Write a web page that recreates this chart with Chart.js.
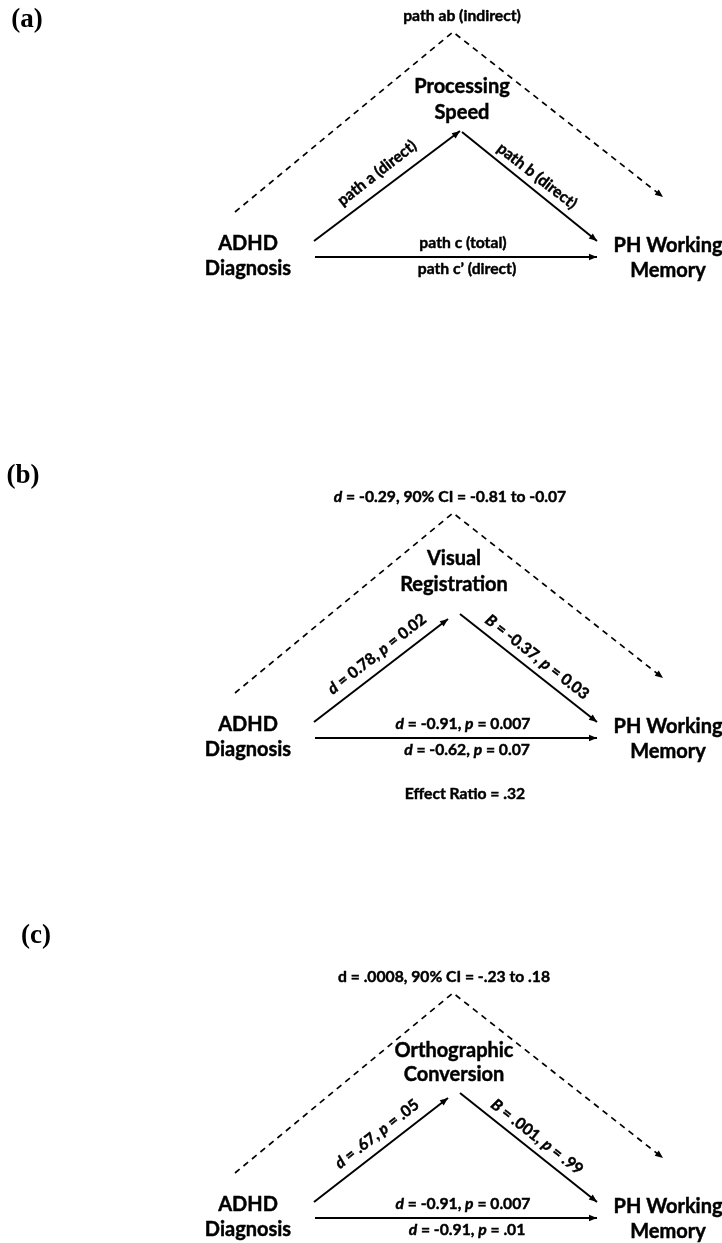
<!DOCTYPE html>
<html>
<head>
<meta charset="utf-8">
<script src="https://cdn.jsdelivr.net/npm/chart.js@4.4.1/dist/chart.umd.min.js"></script>
<style>
  html, body { margin: 0; padding: 0; background: #fff; }
  #wrap { width: 722px; height: 1243px; position: relative; }
</style>
</head>
<body>
<div id="wrap"><canvas id="diagram"></canvas></div>
<script>
/* ================= DATA ================= */
const panelNames = ["(a)", "(b)", "(c)"];
const mediatorNames = [["Processing", "Speed"], ["Visual", "Registration"], ["Orthographic", "Conversion"]];
const predictorName = ["ADHD", "Diagnosis"];
const outcomeName = ["PH Working", "Memory"];
// *...* marks italic text
const indirectLabels = ["path ab (indirect)", "*d* = -0.29, 90% CI = -0.81 to -0.07", "d = .0008, 90% CI = -.23 to .18"];
const pathALabels = ["path a (direct)", "*d* = 0.78, *p* = 0.02", "*d* = .67, *p* = .05"];
const pathBLabels = ["path b (direct)", "*B* = -0.37, *p* = 0.03", "*B* = .001, *p* = .99"];
const pathCLabels = ["path c (total)", "*d* = -0.91, *p* = 0.007", "*d* = -0.91, *p* = 0.007"];
const pathCPrimeLabels = ["path c\u2019 (direct)", "*d* = -0.62, *p* = 0.07", "*d* = -0.91, *p* = .01"];
const effectRatioLabels = [null, "Effect Ratio = .32", null];

/* ================= LAYOUT (panel-local units) ================= */
const panelTop = [0, 481, 961];
const apex = [453, 32];
const dashLeftEnd = [235, 212];
const dashRightEnd = [663, 197];
const pathAStart = [314, 241];
const pathAEnd = [[460, 131], [448, 138], [448, 137]];
const pathBStart = [[462, 132], [460, 133], [460, 132]];
const pathBEnd = [597, 241];
const pathCY = 257;
const pathCX = [315, 597];

const FONT = "Lato, 'Open Sans', sans-serif";

function pt(p, i) { return { x: p[0], y: p[1] + panelTop[i] }; }

const datasets = [];
panelNames.forEach((_, i) => {
  datasets.push({
    data: [pt(dashLeftEnd, i), pt(apex, i), pt(dashRightEnd, i)],
    borderDash: [6, 5], borderWidth: 1.7, arrow: true
  });
  datasets.push({ data: [pt(pathAStart, i), pt(pathAEnd[i], i)], borderWidth: 2, arrow: true });
  datasets.push({ data: [pt(pathBStart[i], i), pt(pathBEnd, i)], borderWidth: 2, arrow: true });
  datasets.push({ data: [pt([pathCX[0], pathCY], i), pt([pathCX[1], pathCY], i)], borderWidth: 2, arrow: true });
});
datasets.forEach(ds => {
  ds.showLine = true;
  ds.borderColor = "#000";
  ds.pointRadius = 0;
  ds.fill = false;
  ds.tension = 0;
});

/* ================= TEXT + ARROW PLUGIN ================= */
function drawRich(ctx, text, x, y, size, angle) {
  const parts = text.split("*");
  const fontFor = k => (k % 2 ? "italic " : "") + "bold " + size + "px " + FONT;
  let total = 0;
  parts.forEach((s, k) => { ctx.font = fontFor(k); total += ctx.measureText(s).width; });
  ctx.save();
  ctx.translate(x, y);
  ctx.rotate((angle || 0) * Math.PI / 180);
  ctx.textBaseline = "middle";
  ctx.textAlign = "left";
  ctx.lineWidth = 0.45;
  ctx.strokeStyle = "#000";
  let cx = -total / 2;
  parts.forEach((s, k) => {
    ctx.font = fontFor(k);
    ctx.fillText(s, cx, 0);
    ctx.strokeText(s, cx, 0);
    cx += ctx.measureText(s).width;
  });
  ctx.restore();
}

const diagramPlugin = {
  id: "diagram",
  afterDatasetsDraw(chart) {
    const ctx = chart.ctx;
    const xs = chart.scales.x, ys = chart.scales.y;
    const px = (x, y) => [xs.getPixelForValue(x), ys.getPixelForValue(y)];

    // arrow heads
    chart.data.datasets.forEach(ds => {
      if (!ds.arrow) return;
      const n = ds.data.length;
      const [x1, y1] = px(ds.data[n - 2].x, ds.data[n - 2].y);
      const [x2, y2] = px(ds.data[n - 1].x, ds.data[n - 1].y);
      const a = Math.atan2(y2 - y1, x2 - x1);
      const L = 8, W = 3.3;
      ctx.save();
      ctx.fillStyle = "#000";
      ctx.beginPath();
      ctx.moveTo(x2, y2);
      ctx.lineTo(x2 - L * Math.cos(a) + W * Math.sin(a), y2 - L * Math.sin(a) - W * Math.cos(a));
      ctx.lineTo(x2 - L * Math.cos(a) - W * Math.sin(a), y2 - L * Math.sin(a) + W * Math.cos(a));
      ctx.closePath();
      ctx.fill();
      ctx.restore();
    });

    ctx.save();
    ctx.fillStyle = "#000";
    const panelLabelPos = [[27, 20], [23, -5], [36, -25]];
    const indirectX = [462, 450, 444];
    const medY = [[87, 113], [78, 104], [90, 114]];
    const medX = [462, 454, 454];
    panelNames.forEach((name, i) => {
      const T = panelTop[i];
      const at = (x, y) => px(x, y + T);

      let [lx, ly] = at(panelLabelPos[i][0], panelLabelPos[i][1]);
      ctx.font = "bold 27px 'Liberation Serif', 'Times New Roman', serif";
      ctx.textAlign = "center";
      ctx.textBaseline = "middle";
      ctx.fillText(name, lx, ly);

      let p = at(indirectX[i], 16); drawRich(ctx, indirectLabels[i], p[0], p[1], 15.7);
      p = at(medX[i], medY[i][0]); drawRich(ctx, mediatorNames[i][0], p[0], p[1], 20);
      p = at(medX[i], medY[i][1]); drawRich(ctx, mediatorNames[i][1], p[0], p[1], 20);
      p = at(248, 244); drawRich(ctx, predictorName[0], p[0], p[1], 20);
      p = at(248, 269); drawRich(ctx, predictorName[1], p[0], p[1], 20);
      p = at(668, 246); drawRich(ctx, outcomeName[0], p[0], p[1], 20);
      p = at(668, 271); drawRich(ctx, outcomeName[1], p[0], p[1], 20);
      p = at(377, 173); drawRich(ctx, pathALabels[i], p[0], p[1], 15.7, -38);
      p = at(537, 176); drawRich(ctx, pathBLabels[i], p[0], p[1], 15.7, 38);
      p = at(463, 243); drawRich(ctx, pathCLabels[i], p[0], p[1], 15.7);
      p = at(467, 269); drawRich(ctx, pathCPrimeLabels[i], p[0], p[1], 15.7);
      if (effectRatioLabels[i]) {
        p = at(465, 313); drawRich(ctx, effectRatioLabels[i], p[0], p[1], 15.7);
      }
    });
    ctx.restore();
  }
};

/* ================= CHART ================= */
new Chart(document.getElementById("diagram"), {
  type: "scatter",
  data: { datasets: datasets },
  options: {
    responsive: true,
    maintainAspectRatio: false,
    animation: false,
    layout: { padding: 0 },
    plugins: { legend: { display: false }, tooltip: { enabled: false } },
    scales: {
      x: { type: "linear", min: 0, max: 722, display: false },
      y: { type: "linear", min: 0, max: 1243, reverse: true, display: false }
    }
  },
  plugins: [diagramPlugin]
});
</script>
</body>
</html>
